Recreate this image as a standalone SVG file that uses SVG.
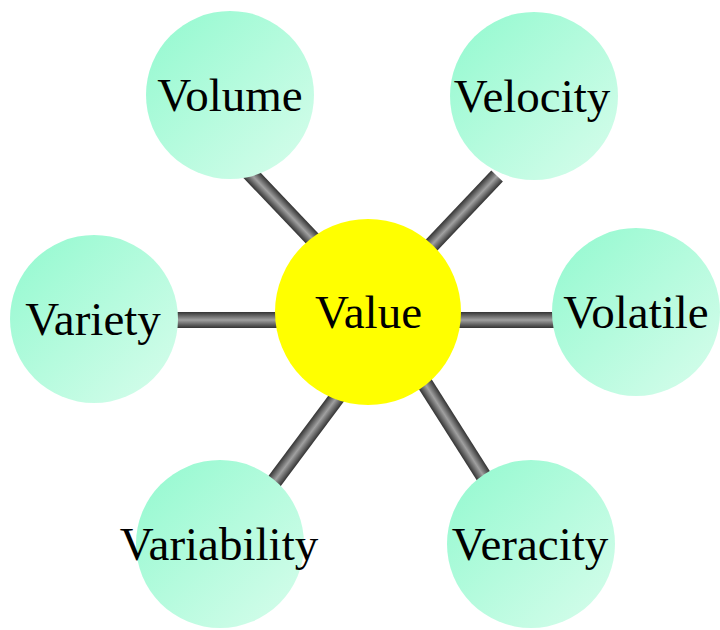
<svg xmlns="http://www.w3.org/2000/svg" width="720" height="630" viewBox="0 0 720 630">
  <defs>
    <linearGradient id="tube" x1="0" y1="0" x2="0" y2="1">
      <stop offset="0" stop-color="#333333"/>
      <stop offset="0.5" stop-color="#a0a0a0"/>
      <stop offset="1" stop-color="#333333"/>
    </linearGradient>
    <linearGradient id="teal" x1="0" y1="0" x2="1" y2="1">
      <stop offset="0" stop-color="#92f9cf"/>
      <stop offset="1" stop-color="#d8fdec"/>
    </linearGradient>
  </defs>
  <style>
    .edge { fill: url(#tube); }
    .leaf { fill: url(#teal); }
    .hub { fill: #ffff00; }
    text { font-family: "Liberation Serif", "Times New Roman", serif; font-size: 47px; fill: #000; text-anchor: middle; }
  </style>
  <g id="connectors">
    <rect class="edge" x="0" y="-8" width="116" height="16" transform="translate(325,252) rotate(-133.6)"/>
    <rect class="edge" x="0" y="-8" width="105" height="16" transform="translate(424.8,252.2) rotate(-46.5)"/>
    <rect class="edge" x="0" y="-8" width="142" height="16" transform="translate(416.3,370.1) rotate(57.6)"/>
    <rect class="edge" x="0" y="-8" width="136" height="16" transform="translate(347,384) rotate(126.75)"/>
    <rect class="edge" x="170" y="312" width="120" height="16"/>
    <rect class="edge" x="450" y="312" width="115" height="16"/>
  </g>
  <g id="node-volume">
    <circle class="leaf" cx="230" cy="95" r="84"/>
    <text x="230" y="111">Volume</text>
  </g>
  <g id="node-velocity">
    <circle class="leaf" cx="534" cy="96" r="84"/>
    <text x="532" y="112">Velocity</text>
  </g>
  <g id="node-variety">
    <circle class="leaf" cx="94" cy="319" r="84"/>
    <text x="93" y="335">Variety</text>
  </g>
  <g id="node-volatile">
    <circle class="leaf" cx="636" cy="312" r="84"/>
    <text x="636" y="328">Volatile</text>
  </g>
  <g id="node-variability">
    <circle class="leaf" cx="220" cy="544" r="84"/>
    <text x="219" y="560">Variability</text>
  </g>
  <g id="node-veracity">
    <circle class="leaf" cx="531" cy="544" r="84"/>
    <text x="530" y="560">Veracity</text>
  </g>
  <g id="node-value">
    <circle class="hub" cx="368" cy="312" r="93"/>
    <text x="368.5" y="328">Value</text>
  </g>
</svg>
